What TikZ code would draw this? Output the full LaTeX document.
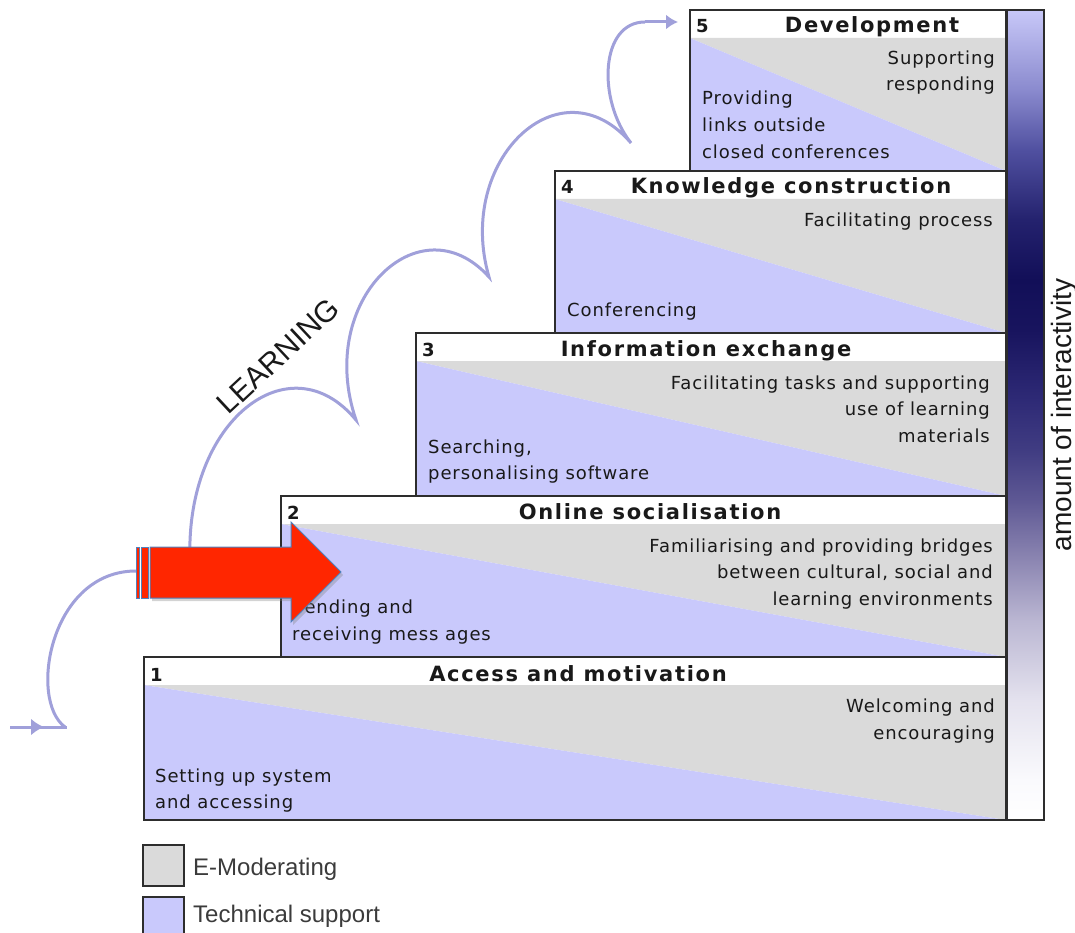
\documentclass[tikz,border=0pt]{standalone}
\usepackage{fontspec}
\setmainfont{Liberation Sans}
\newfontfamily\boxfont{DejaVu Sans}[LetterSpace=5]
\newfontfamily\titlefont{DejaVu Sans}[LetterSpace=8]
\usetikzlibrary{arrows.meta,shadows}
\definecolor{emgray}{RGB}{218,218,218}
\definecolor{tspurple}{RGB}{201,201,252}
\definecolor{curvecol}{RGB}{160,160,218}
\definecolor{boxedge}{RGB}{45,45,45}
\definecolor{txt}{RGB}{25,25,25}
\definecolor{arrowred}{RGB}{255,38,0}
\definecolor{arrowedge}{RGB}{79,129,189}
\definecolor{g0}{RGB}{255,255,255}
\definecolor{g1}{RGB}{250,250,253}
\definecolor{g2}{RGB}{228,226,238}
\definecolor{g3}{RGB}{186,182,210}
\definecolor{g4}{RGB}{140,134,178}
\definecolor{g5}{RGB}{94,88,148}
\definecolor{g6}{RGB}{64,60,130}
\definecolor{g7}{RGB}{46,42,118}
\definecolor{g8}{RGB}{24,20,94}
\definecolor{g9}{RGB}{18,15,88}
\definecolor{g10}{RGB}{36,34,110}
\definecolor{g11}{RGB}{80,80,160}
\definecolor{g12}{RGB}{138,138,206}
\definecolor{g13}{RGB}{200,200,248}
\pgfdeclareverticalshading{interact}{100bp}{%
 color(0bp)=(g0); color(25bp)=(g0); color(27.45bp)=(g1); color(32.4bp)=(g2);
 color(37.35bp)=(g3); color(41.05bp)=(g4); color(44.75bp)=(g5); color(47.85bp)=(g6);
 color(50.95bp)=(g7); color(55.25bp)=(g8); color(58.35bp)=(g9); color(62.05bp)=(g10);
 color(66.35bp)=(g11); color(70.05bp)=(g12); color(75bp)=(g13); color(100bp)=(g13)}
\tikzset{
 bt/.style={font=\boxfont\fontsize{18}{22}\selectfont, text=txt, inner sep=0pt},
 rt/.style={bt, anchor=base east},
 lt/.style={bt, anchor=base west},
 ttl/.style={font=\titlefont\bfseries\fontsize{21}{25}\selectfont, text=txt, anchor=base, inner sep=0pt},
 num/.style={font=\titlefont\bfseries\fontsize{18}{22}\selectfont, text=txt, anchor=base west, inner sep=0pt},
 boxline/.style={draw=boxedge, line width=2pt},
 curve/.style={draw=curvecol, line width=3pt},
 redarrow/.style={fill=arrowred, draw=arrowedge, line width=1pt},
 legtext/.style={font=\fontsize{24}{28}\selectfont, text=txt!85, anchor=base west, inner sep=0pt},
}
\begin{document}
\begin{tikzpicture}[x=1pt,y=-1pt]
\useasboundingbox (0,0) rectangle (1075,933);
% learning curve
\coordinate (c0) at (137,571);
\coordinate (c1) at (65,727);
\coordinate (l0) at (10,727);
\coordinate (l1) at (44,727);
\coordinate (l2) at (40,727);
\coordinate (l3) at (67,727);
\coordinate (s0) at (190,560);
\coordinate (s1) at (356,420);
\coordinate (s2) at (489,277);
\coordinate (s3) at (631,143);
\coordinate (s4) at (645,22);
\coordinate (s5) at (678,22);
\draw[curve] (c0) .. controls (50,570) and (28,700) .. (c1);
\draw[curve, -{Latex[length=13pt,width=17pt]}] (l0) -- (l1);
\draw[curve] (l2) -- (l3);
\draw[curve] (s0) .. controls (185,420) and (290,340) .. (s1)
  .. controls (315,300) and (420,200) .. (s2)
  .. controls (455,160) and (560,60) .. (s3)
  .. controls (597,100) and (600,22) .. (s4);
\draw[curve, -{Latex[length=12pt,width=15pt]}] (s4) -- (s5);
\node[font=\fontsize{30}{34}\selectfont, text=txt, rotate=43] (learn) at (278,356) {LEARNING};
% boxes
\foreach \l/\t/\b in {144/657/820, 281/496/657, 416/333/496, 555/171/333, 690/10/171} {
  \fill[white] (\l,\t) rectangle (1006,\t+28);
  \fill[emgray] (\l,\t+28) -- (1006,\t+28) -- (1006,\b) -- cycle;
  \fill[tspurple] (\l,\t+28) -- (1006,\b) -- (\l,\b) -- cycle;
  \draw[boxline] (\l,\t) rectangle (1006,\b);
}
% interactivity bar
\shade[shading=interact] (1007,10) rectangle (1044,820);
\draw[boxline] (1007,10) rectangle (1044,820);
\node[font=\fontsize{28}{32}\selectfont, text=txt, rotate=90, anchor=base, inner sep=0pt] (amount) at (1071,415) {amount of interactivity};
% box 1
\node[num] (n1) at (150,681) {1};
\node[ttl] (h1) at (578,681) {Access and motivation};
\node[rt] (r1a) at (995,712) {Welcoming and};
\node[rt] (r1b) at (995,739) {encouraging};
\node[lt] (l1a) at (155,782) {Setting up system};
\node[lt] (l1b) at (155,808) {and accessing};
% box 2
\node[num] (n2) at (287,519) {2};
\node[ttl] (h2) at (650,519) {Online socialisation};
\node[rt] (r2a) at (993,552) {Familiarising and providing bridges};
\node[rt] (r2b) at (993,578) {between cultural, social and};
\node[rt] (r2c) at (993,605) {learning environments};
\node[lt] (l2a) at (292,613) {Sending and};
\node[lt] (l2b) at (292,640) {receiving mess ages};
% box 3
\node[num] (n3) at (422,356) {3};
\node[ttl] (h3) at (706,356) {Information exchange};
\node[rt] (r3a) at (990,389) {Facilitating tasks and supporting};
\node[rt] (r3b) at (990,415) {use of learning};
\node[rt] (r3c) at (990,442) {materials};
\node[lt] (l3a) at (428,453) {Searching,};
\node[lt] (l3b) at (428,479) {personalising software};
% box 4
\node[num] (n4) at (561,194) {4};
\node[ttl] (h4) at (791,194) {Knowledge construction};
\node[rt] (r4a) at (993,226) {Facilitating process};
\node[lt] (l4a) at (567,316) {Conferencing};
% box 5
\node[num] (n5) at (696,33) {5};
\node[ttl] (h5) at (872,33) {Development};
\node[rt] (r5a) at (995,65) {Supporting};
\node[rt] (r5b) at (995,91) {responding};
\node[lt] (l5a) at (702,105) {Providing};
\node[lt] (l5b) at (702,132) {links outside};
\node[lt] (l5c) at (702,159) {closed conferences};
% red arrow
\fill[redarrow, drop shadow={opacity=0.35, shadow xshift=2pt, shadow yshift=-3pt}]
  (150,547) -- (291,547) -- (291,522) -- (341,572) -- (291,622) -- (291,598) -- (150,598) -- cycle;
\fill[redarrow] (136,547) rectangle (139.5,598);
\fill[redarrow] (141.5,547) rectangle (148,598);
% legend
\draw[boxline, fill=emgray] (143,845) rectangle (184,886);
\node[legtext] (leg1) at (193,875) {E-Moderating};
\draw[boxline, fill=tspurple] (143,897) rectangle (184,945);
\node[legtext] (leg2) at (193,922) {Technical support};
\end{tikzpicture}
\end{document}
